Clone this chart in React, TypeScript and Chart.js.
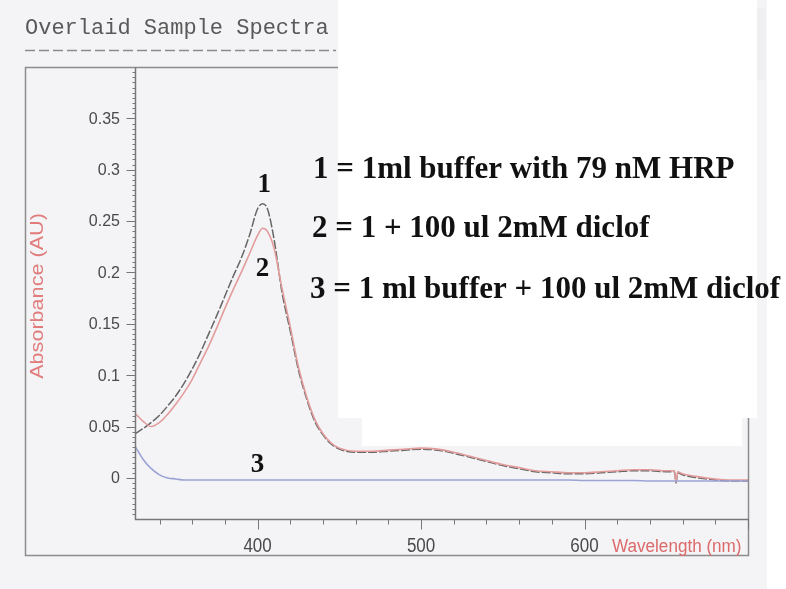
import React, { useEffect, useRef } from "react";
import { Chart, registerables } from "chart.js";

Chart.register(...registerables);

// Wavelength grid (nm) shared by the three spectra
const wavelengths = [
  325, 330, 335, 340, 345, 350, 355, 360, 365, 370, 375, 380, 385, 390, 395, 400,
  403, 406, 410,
  415, 420, 425, 430, 435, 440, 445, 450,
  460, 470, 480, 490, 500, 510, 520, 530, 540, 550, 560, 570, 580, 590, 600, 610, 620, 630, 640, 650,
  655, 656, 657,
  660, 670, 680, 690, 700,
];

// 1 = 1ml buffer with 79 nM HRP
const absorbance1 = [
  0.043, 0.048, 0.054, 0.061, 0.07, 0.08, 0.092, 0.106, 0.122, 0.14, 0.158, 0.177, 0.196, 0.214, 0.236, 0.262,
  0.267, 0.262, 0.233,
  0.18, 0.143, 0.105, 0.077, 0.055, 0.042, 0.033, 0.028,
  0.025, 0.025, 0.026, 0.027, 0.028, 0.027, 0.024, 0.02, 0.016, 0.012, 0.009, 0.006, 0.005, 0.004, 0.004, 0.005, 0.006, 0.007, 0.007, 0.006,
  0.006, -0.005, 0.005,
  0.003, 0.0, -0.002, -0.003, -0.003,
];

// 2 = 1 + 100 ul 2mM diclof
const absorbance2 = [
  0.063, 0.055, 0.05, 0.054, 0.062, 0.072, 0.083, 0.096, 0.112, 0.128, 0.146, 0.165, 0.183, 0.2, 0.218, 0.236,
  0.243, 0.24, 0.224,
  0.184, 0.147, 0.108, 0.079, 0.057, 0.043, 0.034, 0.029,
  0.026, 0.026, 0.027, 0.028, 0.029, 0.028, 0.025, 0.021, 0.017, 0.013, 0.01, 0.007, 0.006, 0.005, 0.005, 0.006, 0.007, 0.008, 0.008, 0.007,
  0.007, -0.004, 0.006,
  0.004, 0.001, -0.001, -0.002, -0.002,
];

// 3 = 1 ml buffer + 100 ul 2mM diclof
const absorbance3 = [
  0.031, 0.018, 0.009, 0.003, 0.0, -0.001, -0.002, -0.002, -0.002, -0.002, -0.002, -0.002, -0.002, -0.002, -0.002, -0.002,
  -0.002, -0.002, -0.002,
  -0.002, -0.002, -0.002, -0.002, -0.002, -0.002, -0.002, -0.002,
  -0.002, -0.002, -0.002, -0.002, -0.002, -0.002, -0.002, -0.002, -0.002, -0.002, -0.002, -0.002, -0.002, -0.002, -0.0025, -0.0025, -0.0025, -0.0025, -0.003, -0.003,
  -0.003, -0.003, -0.003,
  -0.003, -0.003, -0.003, -0.003, -0.003,
];

const yTickValues = [0, 0.05, 0.1, 0.15, 0.2, 0.25, 0.3, 0.35];
const yTickLabels = ["0", "0.05", "0.1", "0.15", "0.2", "0.25", "0.3", "0.35"];
const xTickValues = [400, 500, 600];
const xTickLabels = ["400", "500", "600"];

const legendLines = [
  "1 = 1ml buffer with 79 nM HRP",
  "2 = 1 + 100 ul 2mM diclof",
  "3 = 1 ml buffer + 100 ul 2mM diclof",
];
// curve tags: [text, wavelength, absorbance at the text baseline]
const curveTags: [string, number, number][] = [
  ["1", 404, 0.278],
  ["2", 403, 0.197],
  ["3", 400, 0.006],
];

const toPoints = (ys: number[]) => wavelengths.map((x, i) => ({ x, y: ys[i] }));

function drawText(
  ctx: CanvasRenderingContext2D,
  text: string,
  x: number,
  y: number,
  font: string,
  color: string,
  align: CanvasTextAlign,
  baseline: CanvasTextBaseline,
  sx = 1,
  rotation = 0
) {
  ctx.save();
  ctx.translate(x, y);
  ctx.rotate(rotation);
  ctx.scale(sx, 1);
  ctx.font = font;
  ctx.fillStyle = color;
  ctx.textAlign = align;
  ctx.textBaseline = baseline;
  ctx.fillText(text, 0, 0);
  ctx.restore();
}

const spectraDecor = {
  id: "spectraDecor",
  beforeDraw(chart: any) {
    const ctx: CanvasRenderingContext2D = chart.ctx;
    ctx.save();
    ctx.fillStyle = "#f4f4f6";
    ctx.fillRect(0, 0, chart.width, chart.height);
    ctx.restore();
  },
  afterDraw(chart: any) {
    const ctx: CanvasRenderingContext2D = chart.ctx;
    const xs = chart.scales.x;
    const ys = chart.scales.y;
    const area = chart.chartArea;
    const L = Math.round(area.left) + 0.5;
    const R = Math.round(area.right) + 0.5;
    const T = Math.round(area.top) + 0.5;
    const B = Math.round(area.bottom) + 0.5;
    const frameL = 25.5;
    const frameB = 555.5;

    ctx.save();
    // title
    drawText(ctx, "Overlaid Sample Spectra", 25, 34, "22px 'Liberation Mono', 'DejaVu Sans Mono', monospace", "#595959", "left", "alphabetic");
    // dashed rule under title
    ctx.strokeStyle = "#8a8a8a";
    ctx.lineWidth = 1.5;
    ctx.setLineDash([10, 4]);
    ctx.beginPath();
    ctx.moveTo(25, 50.5);
    ctx.lineTo(336, 50.5);
    ctx.stroke();
    ctx.setLineDash([]);

    // outer frame
    ctx.strokeStyle = "#8c8c8c";
    ctx.lineWidth = 1.5;
    ctx.beginPath();
    ctx.moveTo(R, T);
    ctx.lineTo(frameL, T);
    ctx.lineTo(frameL, frameB);
    ctx.lineTo(R, frameB);
    ctx.lineTo(R, T);
    ctx.stroke();

    // axes
    ctx.strokeStyle = "#777";
    ctx.lineWidth = 1.5;
    ctx.beginPath();
    ctx.moveTo(L, T);
    ctx.lineTo(L, B);
    ctx.lineTo(R, B);
    ctx.stroke();

    // y ticks: minor every 0.005, major every 0.05
    ctx.lineWidth = 1;
    ctx.strokeStyle = "#777";
    for (let k = -7; k <= 79; k++) {
      const v = k * 0.005;
      const py = Math.round(ys.getPixelForValue(v)) + 0.5;
      if (py < T || py > B) continue;
      const major = k % 10 === 0;
      ctx.beginPath();
      ctx.moveTo(L - (major ? 9 : 3), py);
      ctx.lineTo(L, py);
      ctx.stroke();
    }
    // x ticks: minor every 20 nm, major every 100 nm
    for (let w = 340; w <= 700; w += 20) {
      const px = Math.round(xs.getPixelForValue(w)) + 0.5;
      const major = w % 100 === 0;
      ctx.beginPath();
      ctx.moveTo(px, B);
      ctx.lineTo(px, B + (major ? 10 : 5));
      ctx.stroke();
    }

    // tick labels
    yTickValues.forEach((v, i) => {
      drawText(ctx, yTickLabels[i], 120, ys.getPixelForValue(v) + 1, "16px 'Liberation Sans', Arial, sans-serif", "#4a4a4a", "right", "middle");
    });
    xTickValues.forEach((v, i) => {
      drawText(ctx, xTickLabels[i], xs.getPixelForValue(v), 546, "20px 'Liberation Sans', Arial, sans-serif", "#4a4a4a", "center", "middle", 0.85);
    });

    // axis titles
    drawText(ctx, "Wavelength (nm)", 612, 547, "18px 'Liberation Sans', Arial, sans-serif", "#dc6a6a", "left", "middle", 0.95);
    drawText(ctx, "Absorbance (AU)", 38, 296, "18px 'Liberation Sans', Arial, sans-serif", "#e07c7c", "center", "middle", 1.2, -Math.PI / 2);

    // pasted annotation panel
    ctx.fillStyle = "#ffffff";
    ctx.fillRect(338, 0, 419, 418);
    ctx.fillRect(362, 418, 380, 28);
    ctx.fillRect(767, 0, 19, 589);
    ctx.fillStyle = "#efeff2";
    ctx.fillRect(757, 8, 8, 72);

    // annotation text
    const serifBold = "bold 31px 'Liberation Serif', 'Times New Roman', serif";
    const legendX = [313, 312, 310];
    const legendY = [178, 237, 298];
    legendLines.forEach((t, i) => {
      drawText(ctx, t, legendX[i], legendY[i], serifBold, "#111111", "left", "alphabetic");
    });
    curveTags.forEach(([t, w, a]) => {
      drawText(ctx, t, xs.getPixelForValue(w), ys.getPixelForValue(a), "bold 27px 'Liberation Serif', 'Times New Roman', serif", "#111111", "center", "alphabetic");
    });
    ctx.restore();
  },
};

export default function App() {
  const canvasRef = useRef<HTMLCanvasElement | null>(null);

  useEffect(() => {
    const canvas = canvasRef.current;
    if (!canvas) return;
    const chart = new Chart(canvas, {
      type: "line",
      data: {
        datasets: [
          {
            label: "3",
            data: toPoints(absorbance3),
            borderColor: "#9ba3d6",
            borderWidth: 1.6,
            pointRadius: 0,
            cubicInterpolationMode: "monotone",
          },
          {
            label: "2",
            data: toPoints(absorbance2),
            borderColor: "#e39c9c",
            borderWidth: 1.6,
            pointRadius: 0,
            cubicInterpolationMode: "monotone",
          },
          {
            label: "1",
            data: toPoints(absorbance1),
            borderColor: "#666666",
            borderWidth: 1.5,
            borderDash: [9, 2],
            pointRadius: 0,
            cubicInterpolationMode: "monotone",
          },
        ],
      },
      options: {
        responsive: false,
        animation: false,
        layout: { padding: { left: 135, right: 38, top: 67, bottom: 70 } },
        plugins: { legend: { display: false }, tooltip: { enabled: false }, title: { display: false } },
        scales: {
          x: { type: "linear", min: 325, max: 700, display: false },
          y: { type: "linear", min: -0.04, max: 0.4, display: false },
        },
      },
      plugins: [spectraDecor],
    });
    return () => chart.destroy();
  }, []);

  return (
    <div style={{ position: "absolute", left: 0, top: 0, width: 786, height: 589 }}>
      <canvas ref={canvasRef} width={786} height={589} />
    </div>
  );
}
